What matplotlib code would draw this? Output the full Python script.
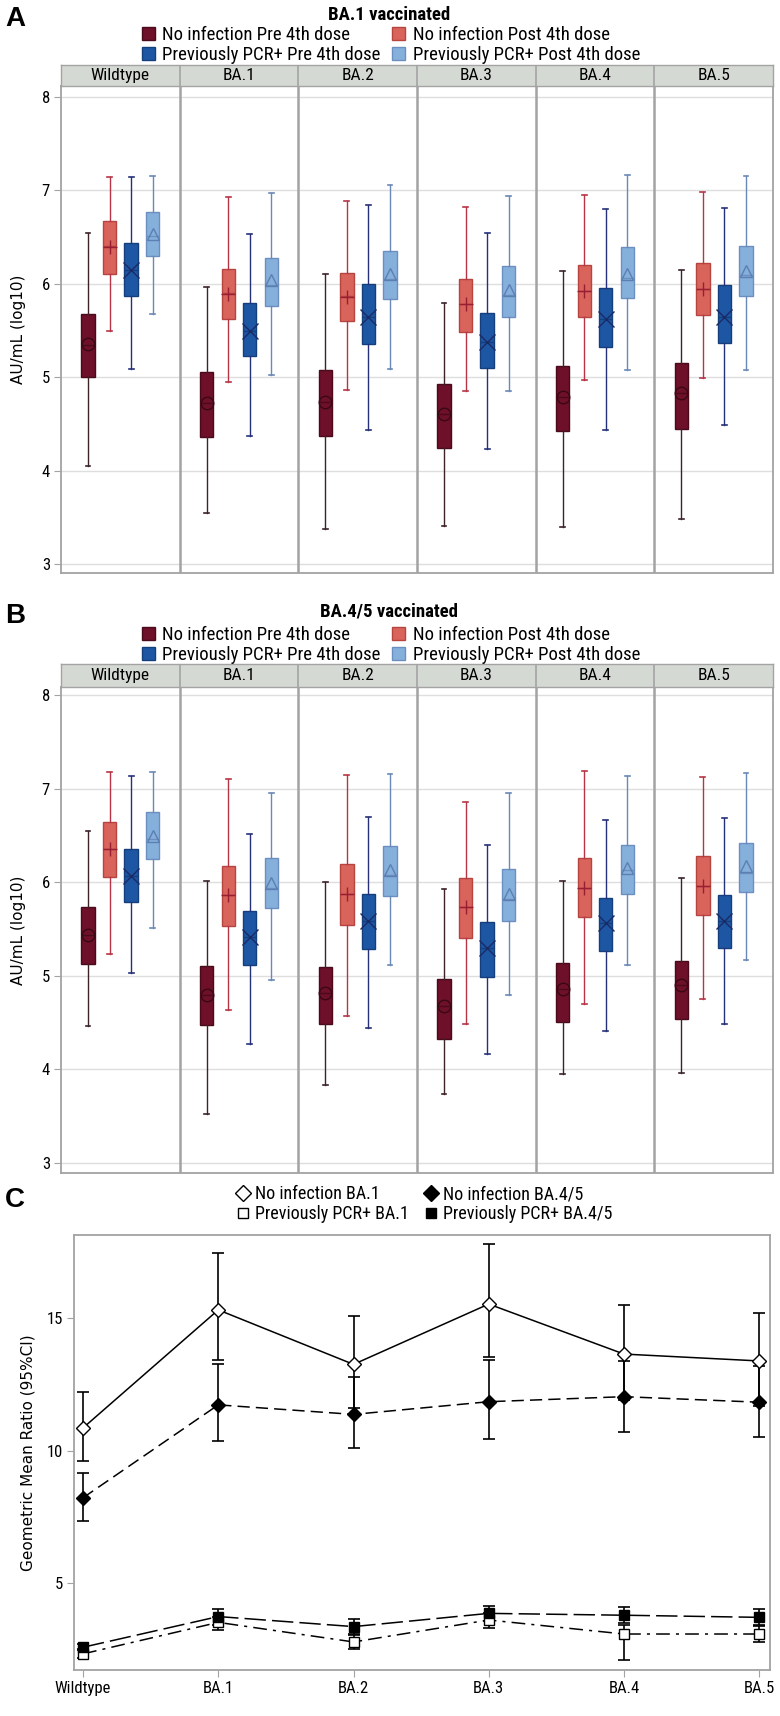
import numpy as np
import matplotlib
matplotlib.use("Agg")
import matplotlib.pyplot as plt
from matplotlib import font_manager as fm
from matplotlib.patches import Patch
from matplotlib.lines import Line2D

# condensed font if available
narrow = "Liberation Sans"
for cand in ["Liberation Sans Narrow", "Roboto Condensed"]:
    try:
        fm.findfont(cand, fallback_to_default=False)
        narrow = cand
        break
    except Exception:
        pass

variants = ["Wildtype", "BA.1", "BA.2", "BA.3", "BA.4", "BA.5"]
groups = ["No infection Pre 4th dose", "No infection Post 4th dose",
          "Previously PCR+ Pre 4th dose", "Previously PCR+ Post 4th dose"]

# Panel A (BA.1 vaccinated), rows = groups, cols = variants
a_whislo = [[4.05, 3.55, 3.375, 3.41, 3.40, 3.48],
            [5.49, 4.95, 4.86, 4.85, 4.97, 4.99],
            [5.09, 4.37, 4.43, 4.23, 4.43, 4.49],
            [5.68, 5.02, 5.09, 4.85, 5.075, 5.08]]
a_q1 = [[5.00, 4.36, 4.375, 4.24, 4.42, 4.45],
        [6.11, 5.62, 5.60, 5.48, 5.64, 5.67],
        [5.875, 5.225, 5.36, 5.10, 5.32, 5.37],
        [6.30, 5.76, 5.84, 5.64, 5.85, 5.87]]
a_med = [[5.35, 4.72, 4.74, 4.61, 4.79, 4.83],
         [6.40, 5.90, 5.87, 5.78, 5.92, 5.94],
         [6.15, 5.49, 5.64, 5.38, 5.625, 5.65],
         [6.51, 5.99, 6.05, 5.88, 6.06, 6.09]]
a_q3 = [[5.675, 5.06, 5.08, 4.93, 5.12, 5.15],
        [6.67, 6.16, 6.12, 6.05, 6.20, 6.22],
        [6.44, 5.80, 6.00, 5.69, 5.96, 5.99],
        [6.77, 6.28, 6.35, 6.19, 6.39, 6.41]]
a_whishi = [[6.54, 5.97, 6.10, 5.80, 6.14, 6.15],
            [7.14, 6.93, 6.89, 6.82, 6.95, 6.98],
            [7.14, 6.53, 6.84, 6.54, 6.80, 6.81],
            [7.15, 6.97, 7.06, 6.94, 7.17, 7.15]]
a_mean = [[5.36, 4.72, 4.74, 4.61, 4.79, 4.83],
          [6.39, 5.89, 5.86, 5.78, 5.92, 5.94],
          [6.15, 5.49, 5.64, 5.38, 5.625, 5.65],
          [6.53, 6.04, 6.10, 5.93, 6.11, 6.14]]

# Panel B (BA.4/5 vaccinated)
b_whislo = [[4.46, 3.52, 3.83, 3.74, 3.95, 3.96],
            [5.23, 4.64, 4.57, 4.49, 4.70, 4.75],
            [5.03, 4.27, 4.44, 4.16, 4.41, 4.48],
            [5.51, 4.95, 5.12, 4.80, 5.12, 5.17]]
b_q1 = [[5.13, 4.47, 4.48, 4.33, 4.51, 4.54],
        [6.06, 5.53, 5.54, 5.40, 5.63, 5.65],
        [5.79, 5.12, 5.29, 4.99, 5.26, 5.30],
        [6.25, 5.72, 5.85, 5.59, 5.87, 5.90]]
b_med = [[5.44, 4.80, 4.82, 4.68, 4.86, 4.90],
         [6.36, 5.86, 5.87, 5.74, 5.94, 5.96],
         [6.07, 5.42, 5.59, 5.30, 5.56, 5.59],
         [6.46, 5.94, 6.08, 5.82, 6.13, 6.10]]
b_q3 = [[5.73, 5.10, 5.09, 4.97, 5.14, 5.16],
        [6.64, 6.17, 6.20, 6.05, 6.26, 6.28],
        [6.35, 5.69, 5.87, 5.57, 5.83, 5.86],
        [6.75, 6.26, 6.39, 6.14, 6.40, 6.42]]
b_whishi = [[6.55, 6.01, 6.00, 5.93, 6.01, 6.05],
            [7.18, 7.10, 7.15, 6.86, 7.19, 7.12],
            [7.14, 6.51, 6.70, 6.40, 6.66, 6.69],
            [7.18, 6.95, 7.16, 6.95, 7.14, 7.17]]
b_mean = [[5.44, 4.80, 4.82, 4.68, 4.86, 4.90],
          [6.36, 5.86, 5.87, 5.74, 5.94, 5.96],
          [6.07, 5.42, 5.59, 5.30, 5.56, 5.59],
          [6.49, 5.99, 6.13, 5.87, 6.15, 6.17]]

# Panel C: geometric mean ratios with 95% CI
gmr_noinf_ba1 = [10.86, 15.32, 13.26, 15.54, 13.65, 13.39]
gmr_noinf_ba1_lo = [9.61, 13.43, 11.62, 13.53, 11.90, 11.70]
gmr_noinf_ba1_hi = [12.22, 17.48, 15.10, 17.82, 15.52, 15.19]
gmr_noinf_ba45 = [8.22, 11.73, 11.37, 11.85, 12.04, 11.83]
gmr_noinf_ba45_lo = [7.36, 10.37, 10.11, 10.43, 10.69, 10.52]
gmr_noinf_ba45_hi = [9.16, 13.26, 12.80, 13.43, 13.40, 13.20]
gmr_pcr_ba1 = [2.32, 3.51, 2.77, 3.60, 3.07, 3.07]
gmr_pcr_ba1_lo = [2.15, 3.22, 2.52, 3.31, 2.09, 2.78]
gmr_pcr_ba1_hi = [2.49, 3.73, 3.04, 3.85, 3.41, 3.38]
gmr_pcr_ba45 = [2.57, 3.73, 3.35, 3.85, 3.78, 3.70]
gmr_pcr_ba45_lo = [2.45, 3.41, 3.07, 3.56, 3.48, 3.41]
gmr_pcr_ba45_hi = [2.70, 4.00, 3.63, 4.14, 4.08, 4.00]

# styles
fill_c = ["#6e1029", "#d8645c", "#1d57a3", "#86b0dc"]
edge_c = ["#4a0a1b", "#b6443f", "#143f7c", "#6b8fc0"]
whisk_c = ["#3b2328", "#b73447", "#26307a", "#6a88b8"]
mark = ["o", "+", "x", "^"]
mark_sz = [9, 10, 11, 9]
mark_c = ["#3a0812", "#9a1e33", "#1a2a66", "#5c7fb3"]
grid_c = "#dedede"
frame_c = "#a3a3a3"
strip_c = "#d5d9d3"

W, H = 780, 1716
fig = plt.figure(figsize=(W / 100, H / 100), dpi=100)


def px_axes(x0, y0, x1, y1):
    return fig.add_axes([x0 / W, 1 - y1 / H, (x1 - x0) / W, (y1 - y0) / H])


offsets = np.array([-1.5, -0.5, 0.5, 1.5]) * 0.182


def box_panel(strip_top, strip_bot, bottom, ylim, whislo, q1, med, q3, whishi, mean,
              letter, title, title_y, leg_y):
    x0, x1 = 61, 773
    ax = px_axes(x0, strip_bot, x1, bottom)
    for g in range(4):
        stats = []
        for v in range(6):
            stats.append(dict(whislo=whislo[g][v], q1=q1[g][v], med=med[g][v],
                              q3=q3[g][v], whishi=whishi[g][v], mean=mean[g][v], fliers=[]))
        pos = np.arange(6) + 0.5 + offsets[g]
        ax.bxp(stats, positions=pos, widths=0.112, patch_artist=True, showmeans=True,
               showfliers=False, manage_ticks=False,
               boxprops=dict(facecolor=fill_c[g], edgecolor=edge_c[g], linewidth=1.0),
               medianprops=dict(color=edge_c[g], linewidth=1.0),
               whiskerprops=dict(color=whisk_c[g], linewidth=1.0),
               capprops=dict(color=whisk_c[g], linewidth=1.2),
               capwidths=0.04,
               meanprops=dict(marker=mark[g], markersize=mark_sz[g],
                              markerfacecolor="none", markeredgecolor=mark_c[g],
                              markeredgewidth=1.0, linestyle="none"))
    ax.set_xlim(0, 6)
    ax.set_ylim(*ylim)
    ax.set_yticks([3, 4, 5, 6, 7, 8])
    ax.yaxis.grid(True, color=grid_c, linewidth=1.0)
    ax.set_axisbelow(True)
    ax.set_xticks([])
    for i in range(1, 6):
        ax.axvline(i, color=frame_c, linewidth=1.8, zorder=5)
    for s in ax.spines.values():
        s.set_color(frame_c)
        s.set_linewidth(1.3)
    ax.tick_params(axis="y", length=5, color=frame_c, labelsize=12, pad=3)
    for t in ax.get_yticklabels():
        t.set_fontfamily(narrow)
    ax.set_ylabel("AU/mL (log10)", fontsize=11, family="DejaVu Sans", labelpad=11)

    st = px_axes(x0, strip_top, x1, strip_bot)
    st.set_facecolor(strip_c)
    st.set_xlim(0, 6)
    st.set_ylim(0, 1)
    st.set_xticks([])
    st.set_yticks([])
    for i in range(1, 6):
        st.axvline(i, color=frame_c, linewidth=1.2)
    for s in st.spines.values():
        s.set_color(frame_c)
        s.set_linewidth(1.0)
    for i, v in enumerate(variants):
        st.text(i + 0.5, 0.48, v, ha="center", va="center", fontsize=12.5, family=narrow)

    fig.text(5 / W, 1 - (title_y + 4) / H, letter, fontsize=20, fontweight="bold",
             family="Liberation Sans", va="center", ha="left")
    fig.text(389 / W, 1 - title_y / H, title, fontsize=13.5, fontweight="bold",
             family=narrow, ha="center", va="center")
    handles = [Patch(facecolor=fill_c[0], edgecolor=edge_c[0], label=groups[0]),
               Patch(facecolor=fill_c[2], edgecolor=edge_c[2], label=groups[2]),
               Patch(facecolor=fill_c[1], edgecolor=edge_c[1], label=groups[1]),
               Patch(facecolor=fill_c[3], edgecolor=edge_c[3], label=groups[3])]
    fig.legend(handles=handles, ncol=2, loc="center", bbox_to_anchor=(391 / W, 1 - leg_y / H),
               frameon=False, prop=dict(family=narrow, size=13.5), handlelength=0.7,
               handleheight=0.7, handletextpad=0.4, columnspacing=0.6, labelspacing=0.1,
               borderpad=0)


box_panel(65, 86, 573, (2.904, 8.118), a_whislo, a_q1, a_med, a_q3, a_whishi, a_mean,
          "A", "BA.1 vaccinated", 15, 45)
box_panel(664, 687, 1173, (2.893, 8.086), b_whislo, b_q1, b_med, b_q3, b_whishi, b_mean,
          "B", "BA.4/5 vaccinated", 612, 645)

# Panel C
axc = px_axes(74, 1235, 770, 1670)
xs = np.arange(6)
series = [
    (gmr_noinf_ba1, gmr_noinf_ba1_lo, gmr_noinf_ba1_hi, "D", "white", (0, ()), "No infection BA.1", 7),
    (gmr_pcr_ba1, gmr_pcr_ba1_lo, gmr_pcr_ba1_hi, "s", "white", (0, (9, 4, 2, 4)), "Previously PCR+ BA.1", 6.5),
    (gmr_noinf_ba45, gmr_noinf_ba45_lo, gmr_noinf_ba45_hi, "D", "black", (0, (8, 4)), "No infection BA.4/5", 7),
    (gmr_pcr_ba45, gmr_pcr_ba45_lo, gmr_pcr_ba45_hi, "s", "black", (0, (14, 4)), "Previously PCR+ BA.4/5", 6.5),
]
leg_handles = []
for y, lo, hi, m, fc, ls, lab, ms in series:
    y = np.array(y)
    err = np.vstack([y - np.array(lo), np.array(hi) - y])
    axc.errorbar(xs, y, yerr=err, fmt="none", ecolor="black", elinewidth=1.2,
                 capsize=4, capthick=1.2, zorder=2)
    axc.plot(xs, y, color="black", linestyle=ls, linewidth=1.1, zorder=3)
    axc.plot(xs, y, linestyle="none", marker=m, markersize=ms, markerfacecolor=fc,
             markeredgecolor="black", markeredgewidth=1.0, zorder=4)
    leg_handles.append(Line2D([], [], linestyle="none", marker=m, markersize=ms + 1,
                              markerfacecolor=fc, markeredgecolor="black", label=lab))
axc.set_xlim(-0.067, 5.08)
axc.set_ylim(1.71, 18.15)
axc.set_yticks([5, 10, 15])
axc.set_xticks(xs)
axc.set_xticklabels(variants, family=narrow, fontsize=12)
for t in axc.get_yticklabels():
    t.set_fontfamily(narrow)
    t.set_fontsize(12)
for s in axc.spines.values():
    s.set_color(frame_c)
    s.set_linewidth(1.3)
axc.tick_params(length=5, color=frame_c, pad=3)
axc.set_ylabel("Geometric Mean Ratio (95%CI)", fontsize=11, family="DejaVu Sans", labelpad=8)
fig.text(5 / W, 1 - 1200 / H, "C", fontsize=20, fontweight="bold", family="Liberation Sans",
         va="center", ha="left")
fig.legend(handles=leg_handles, ncol=2, loc="center", bbox_to_anchor=(424 / W, 1 - 1204 / H),
           frameon=False, prop=dict(family=narrow, size=13), handlelength=0.8,
           handletextpad=0.3, columnspacing=0.8, labelspacing=0.1, borderpad=0)

fig.savefig("out.png", dpi=100)
